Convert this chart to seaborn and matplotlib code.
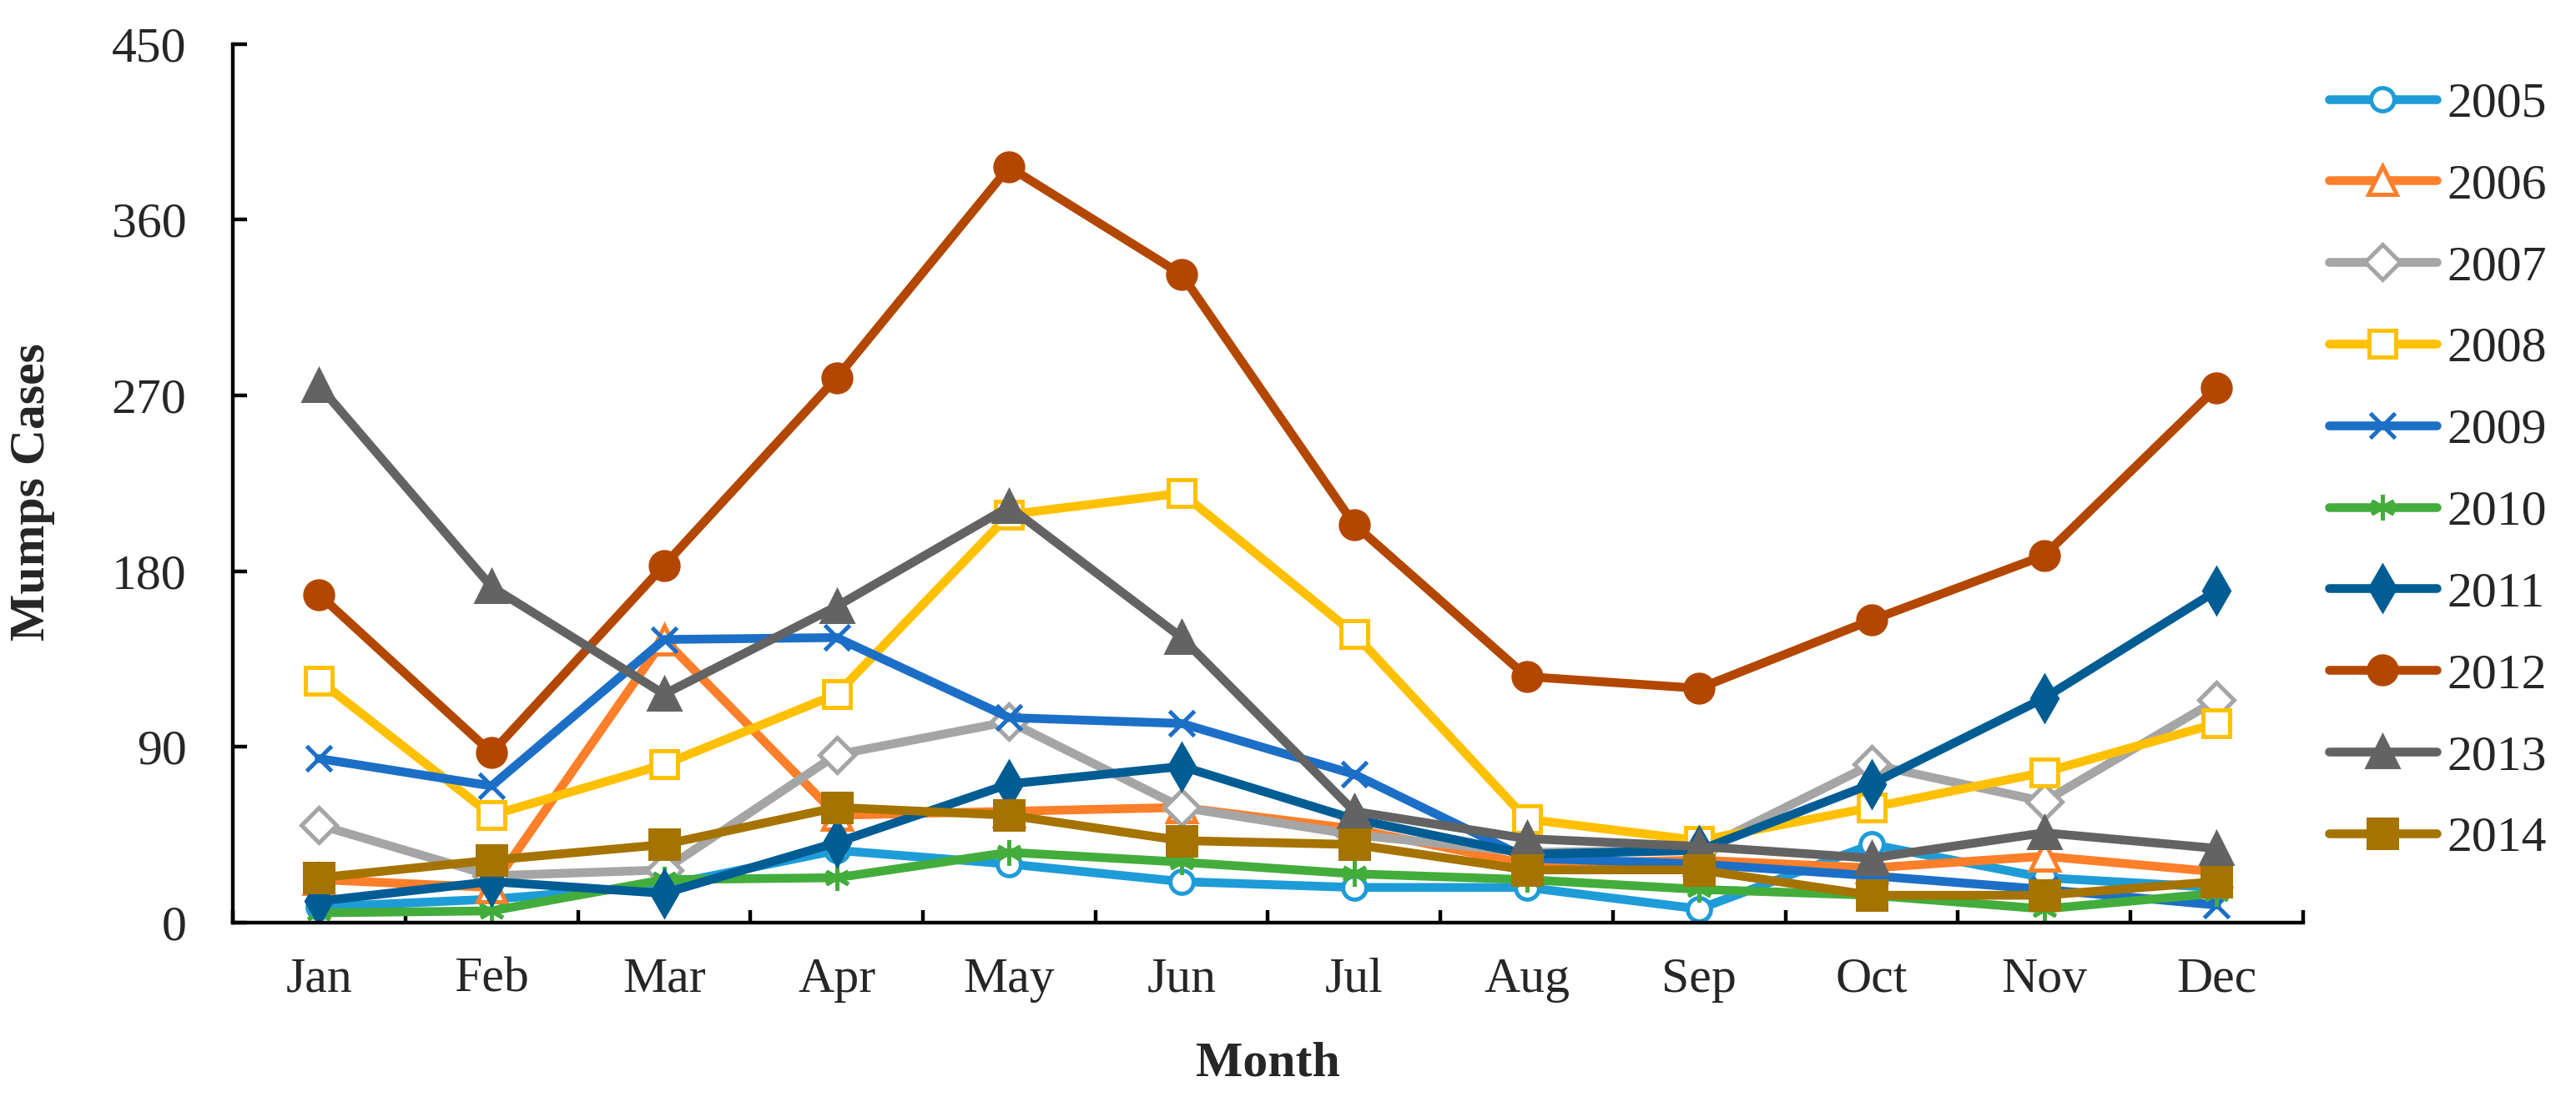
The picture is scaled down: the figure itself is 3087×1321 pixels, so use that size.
import pandas as pd
import matplotlib
matplotlib.use('Agg')
import matplotlib.pyplot as plt
import seaborn as sns

# Dados mensais de casos de caxumba por ano
MONTHS = ['Jan', 'Feb', 'Mar', 'Apr', 'May', 'Jun',
          'Jul', 'Aug', 'Sep', 'Oct', 'Nov', 'Dec']
YEARS = ['2005', '2006', '2007', '2008', '2009',
         '2010', '2011', '2012', '2013', '2014']

cases_2005 = [8, 12, 19, 37, 30, 21, 18, 18, 7, 40, 23, 18]
cases_2006 = [22, 18, 145, 55, 57, 59, 48, 30, 32, 28, 34, 26]
cases_2007 = [50, 24, 27, 86, 103, 59, 45, 36, 37, 81, 62, 114]
cases_2008 = [124, 55, 81, 117, 209, 220, 148, 53, 42, 59, 77, 102]
cases_2009 = [84, 70, 145, 146, 105, 102, 76, 33, 30, 24, 17, 9]
cases_2010 = [5, 6, 22, 23, 36, 31, 25, 22, 17, 14, 7, 15]
cases_2011 = [11, 21, 15, 41, 71, 80, 53, 35, 37, 71, 115, 170]
cases_2012 = [168, 87, 183, 279, 387, 332, 204, 126, 120, 155, 188, 274]
cases_2013 = [275, 172, 117, 162, 213, 146, 57, 43, 39, 33, 46, 38]
cases_2014 = [23, 32, 40, 59, 55, 42, 40, 27, 27, 14, 14, 21]

SERIES = [cases_2005, cases_2006, cases_2007, cases_2008, cases_2009,
          cases_2010, cases_2011, cases_2012, cases_2013, cases_2014]

COLORS = ['#1E9CD8', '#FD7F2A', '#A5A5A5', '#FFC000', '#1C6FC6',
          '#43AD3C', '#005D93', '#B34700', '#636363', '#A57300']
MARKERS = ['o', '^', 'D', 's', 'x', (6, 2, 0), 'd', 'o', '^', 's']
SIZES = [10, 12, 10.5, 11.5, 10.5, 11, 13, 12, 13, 12]
OPEN = [True, True, True, True, False, False, False, False, False, False]

sns.set_style('ticks')
plt.rcParams['font.family'] = ['Liberation Serif', 'DejaVu Serif']

fig = plt.figure(figsize=(15.435, 6.605), dpi=200)
ax = fig.add_axes([0.0904, 0.1628, 0.8036, 0.7972])

x = list(range(len(MONTHS)))
for year, vals, col, mk, ms, op in zip(YEARS, SERIES, COLORS, MARKERS, SIZES, OPEN):
    df = pd.DataFrame({'pos': x, 'cases': vals})
    sns.lineplot(data=df, x='pos', y='cases', ax=ax, color=col, linewidth=3.8,
                 marker=mk, markersize=ms,
                 markerfacecolor='white' if op else col,
                 markeredgecolor=col, markeredgewidth=1.8,
                 label=year)

# Eixos
ax.set_xlim(-0.5, 11.5)
ax.set_ylim(0, 450)
ax.set_xticks(x)
ax.set_xticklabels(MONTHS)
ax.set_xticks([i - 0.5 for i in range(13)], minor=True)
ax.set_yticks(range(0, 451, 90))
ax.tick_params(axis='x', which='major', length=0, pad=15, labelsize=21.5)
ax.tick_params(axis='x', which='minor', direction='in', length=5.5, width=1.6, color='black')
ax.tick_params(axis='y', direction='in', length=6, width=1.6, pad=20, labelsize=21.5, color='black')

for side in ['top', 'right']:
    ax.spines[side].set_visible(False)
for side in ['left', 'bottom']:
    ax.spines[side].set_linewidth(1.6)
    ax.spines[side].set_color('black')

ax.set_xlabel('Month', fontsize=21.5, fontweight='bold')
ax.set_ylabel('Mumps Cases', fontsize=21.5, fontweight='bold')
ax.xaxis.set_label_coords(0.5, -0.135)
ax.yaxis.set_label_coords(-0.086, 0.49)

handles, labels = ax.get_legend_handles_labels()
ax.legend(handles, labels, loc='upper left', bbox_to_anchor=(0.904, 0.926),
          bbox_transform=fig.transFigure, frameon=False, fontsize=21.5,
          handlelength=2.17, handletextpad=0.2, labelspacing=0.72,
          borderpad=0, borderaxespad=0)

fig.savefig('out.png', dpi=200)
plt.close(fig)
